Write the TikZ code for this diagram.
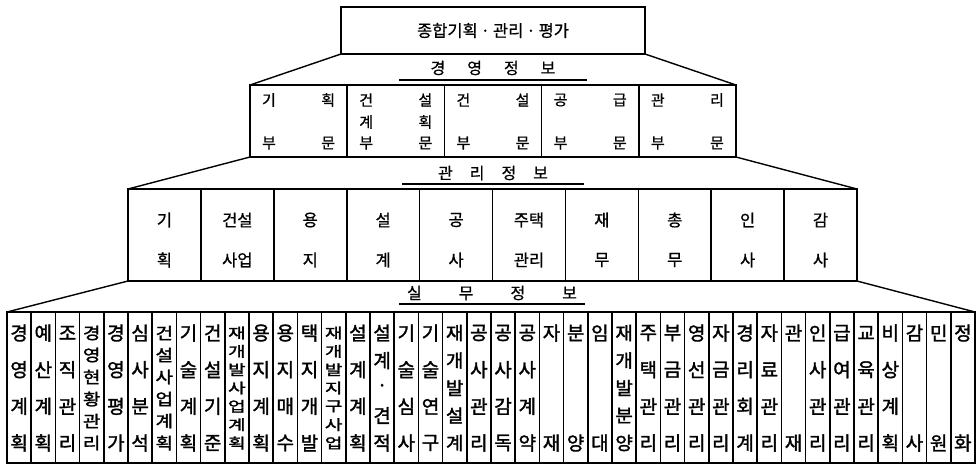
\documentclass[tikz,border=0pt]{standalone}
\usepackage{fontspec}
\usepackage{graphicx}
\newfontfamily\kr{Noto Sans CJK KR}
\newfontfamily\krm[FakeBold=0.8]{Noto Sans CJK KR}
\newfontfamily\krb[FakeBold=1.6]{Noto Sans CJK KR}
\usetikzlibrary{calc}
\begin{document}
\begin{tikzpicture}[x=1pt,y=-1pt]
\tikzset{
  frame/.style={draw=black, line width=1.6pt, inner sep=0pt, outer sep=0pt, fill=none},
  conn/.style={draw=black, line width=1.4pt},
  uline/.style={draw=black, line width=1.8pt},
  topfont/.style={font=\krm\fontsize{16.5}{16.5}\selectfont},
  lab/.style={inner sep=0pt, font=\krm\fontsize{16}{16}\selectfont},
  sch/.style={inner sep=0pt, font=\krm\fontsize{15}{15}\selectfont},
  tch/.style={inner sep=0pt, font=\krm\fontsize{16.5}{16.5}\selectfont},
  bch/.style={inner sep=0pt, font=\krb\fontsize{19}{19}\selectfont},
}
\useasboundingbox (0,0) rectangle (979,467);
\fill[white] (0,0) rectangle (979,467);

% top box
\node[frame, topfont, minimum width=304pt, minimum height=47pt, anchor=north west] (top) at (341,7)
  {종합기획\hspace{3pt}·\hspace{3pt}관리\hspace{3pt}·\hspace{3pt}평가};

% label 1
\node[lab] (lab1) at (493,68) {경\hspace{22pt}영\hspace{22pt}정\hspace{22pt}보};
\draw[uline] ($(lab1.center)+(-94,12)$) -- ($(lab1.center)+(94,12)$);

% second row
\foreach \i/\a/\b in {1/기/획, 2/건/설, 3/건/설, 4/공/급, 5/관/리} {
  \node[frame, minimum width=97.2pt, minimum height=72pt, anchor=north west] (s\i) at ({250+97.2*(\i-1)},85) {};
  \node[sch] (s\i-a) at ({250+97.2*(\i-1)+19},100) {\a};
  \node[sch] (s\i-b) at ({250+97.2*\i-19},100) {\b};
  \node[sch] (s\i-c) at ({250+97.2*(\i-1)+19},143) {부};
  \node[sch] (s\i-d) at ({250+97.2*\i-19},143) {문};
}
\node[sch] (s2-e) at ({250+97.2+19},122) {계};
\node[sch] (s2-f) at ({250+97.2*2-19},122) {획};

\draw[conn] (top.south west) -- (s1.north west);
\draw[conn] (top.south east) -- (s5.north east);

% label 2
\node[lab] (lab2) at (493,173) {관\hspace{17pt}리\hspace{17pt}정\hspace{17pt}보};
\draw[uline] ($(lab2.center)+(-91,11)$) -- ($(lab2.center)+(91,11)$);

% third row
\foreach \i/\a/\b in {1/기/획, 2/건설/사업, 3/용/지, 4/설/계, 5/공/사, 6/주택/관리, 7/재/무, 8/총/무, 9/인/사, 10/감/사} {
  \node[frame, minimum width=72.9pt, minimum height=92pt, anchor=north west] (t\i) at ({128+72.9*(\i-1)},189) {};
  \node[tch] (t\i-a) at ({128+72.9*(\i-0.5)},220) {\a};
  \node[tch] (t\i-b) at ({128+72.9*(\i-0.5)},260) {\b};
}
\draw[conn] (s1.south west) -- (t1.north west);
\draw[conn] (s5.south east) -- (t10.north east);

% label 3
\node[lab] (lab3) at (492,293) {실\hspace{37pt}무\hspace{37pt}정\hspace{37pt}보};
\draw[uline] ($(lab3.center)+(-93,11)$) -- ($(lab3.center)+(93,11)$);

% bottom row
\foreach \i/\n/\s/\txt in {
  1/4/1/{경,영,계,획}, 2/4/1/{예,산,계,획}, 3/4/1/{조,직,관,리}, 4/6/0.85/{경,영,현,황,관,리},
  5/4/1/{경,영,평,가}, 6/4/1/{심,사,분,석}, 7/6/0.85/{건,설,사,업,계,획}, 8/4/1/{기,술,계,획},
  9/4/1/{건,설,기,준}, 10/7/0.75/{재,개,발,사,업,계,획}, 11/4/1/{용,지,계,획}, 12/4/1/{용,지,매,수},
  13/4/1/{택,지,개,발}, 14/7/0.75/{재,개,발,지,구,사,업}, 15/4/1/{설,계,계,획}, 16/5/1/{설,계,·,견,적},
  17/4/1/{기,술,심,사}, 18/4/1/{기,술,연,구}, 19/5/0.95/{재,개,발,설,계}, 20/4/1/{공,사,관,리},
  21/4/1/{공,사,감,독}, 22/4/1/{공,사,계,약}, 23/2/1/{자,재}, 24/2/1/{분,양},
  25/2/1/{임,대}, 26/5/0.95/{재,개,발,분,양}, 27/4/1/{주,택,관,리}, 28/4/1/{부,금,관,리},
  29/4/1/{영,선,관,리}, 30/4/1/{자,금,관,리}, 31/4/1/{경,리,회,계}, 32/4/1/{자,료,관,리},
  33/2/1/{관,재}, 34/4/1/{인,사,관,리}, 35/4/1/{급,여,관,리}, 36/4/1/{교,육,관,리},
  37/4/1/{비,상,계,획}, 38/2/1/{감,사}, 39/2/1/{민,원}, 40/2/1/{정,화}} {
  \node[frame, minimum width=24.2pt, minimum height=151pt, anchor=north west] (b\i) at ({7+24.2*(\i-1)},312) {};
  \foreach \c [count=\k] in \txt {
    \node[bch] (b\i-\k) at ({7+24.2*(\i-0.5)},{333+(\k-1)*110/(\n-1)}) {\scalebox{1}[\s]{\c}};
  }
}
\draw[conn] (t1.south west) -- (b1.north west);
\draw[conn] (t10.south east) -- (b40.north east);
\end{tikzpicture}
\end{document}
